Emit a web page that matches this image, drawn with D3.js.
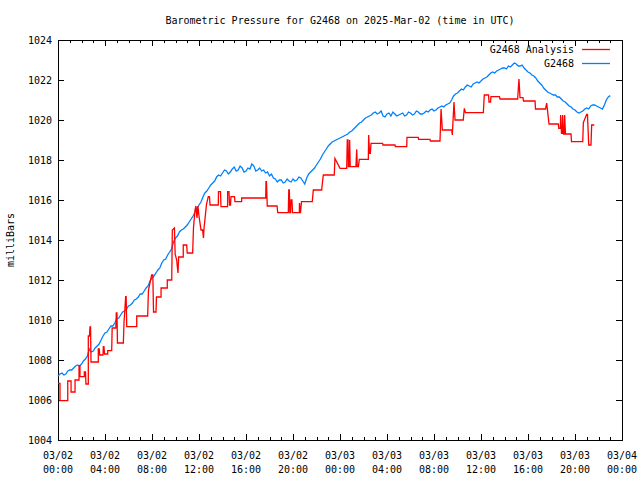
<!DOCTYPE html>
<html><head><meta charset="utf-8">
<script src="https://cdn.jsdelivr.net/npm/d3@7"></script>
<style>
body{margin:0;background:#fff}
svg{display:block}
text{font-family:"DejaVu Sans Mono",monospace;font-size:10px;fill:#000}
</style>
</head><body>
<svg id="chart" width="640" height="480"></svg>
<script>
const chartTitle = "Barometric Pressure for G2468 on 2025-Mar-02 (time in UTC)";
const yAxisLabel = "milliBars";
const startTime = "2025-03-02T00:00:00Z";
const endTime = "2025-03-04T00:00:00Z";
const yTickValues = [1004, 1006, 1008, 1010, 1012, 1014, 1016, 1018, 1020, 1022, 1024];
const seriesNames = ["G2468 Analysis", "G2468"];
const seriesColors = ["#ff0000", "#0080ff"];

// G2468 observations, one value every 10 minutes from 03/02 00:00 UTC
const obsStepMinutes = 10;
const obsValues = [
  1007.20,1007.30,1007.35,1007.25,1007.30,1007.45,1007.50,1007.50,1007.60,1007.70,
  1007.75,1007.70,1007.80,1007.95,1008.05,1008.20,1008.55,1008.40,1008.45,1008.60,
  1008.70,1008.80,1009.00,1009.20,1009.35,1009.40,1009.55,1009.70,1009.70,1009.85,
  1010.05,1010.10,1010.25,1010.40,1010.45,1010.55,1010.70,1010.75,1010.85,1011.00,
  1011.05,1011.15,1011.30,1011.30,1011.45,1011.60,1011.70,1011.95,1012.10,1012.20,
  1012.35,1012.50,1012.60,1012.85,1013.00,1013.05,1013.25,1013.40,1013.55,1013.90,
  1014.10,1014.20,1014.40,1014.50,1014.55,1014.65,1014.75,1014.90,1015.05,1015.20,
  1015.40,1015.60,1015.75,1015.90,1016.15,1016.35,1016.45,1016.60,1016.75,1016.85,
  1016.95,1017.15,1017.25,1017.20,1017.35,1017.50,1017.45,1017.30,1017.40,1017.55,
  1017.65,1017.45,1017.50,1017.70,1017.60,1017.40,1017.45,1017.60,1017.55,1017.80,
  1017.70,1017.45,1017.50,1017.60,1017.45,1017.50,1017.35,1017.40,1017.20,1017.30,
  1017.10,1017.05,1016.90,1017.00,1017.00,1016.85,1016.90,1017.05,1016.95,1016.90,
  1017.05,1016.95,1017.00,1017.15,1017.10,1016.95,1016.80,1017.10,1017.30,1017.40,
  1017.50,1017.60,1017.75,1017.90,1018.05,1018.25,1018.40,1018.55,1018.70,1018.80,
  1018.90,1018.95,1019.00,1019.05,1019.10,1019.15,1019.20,1019.25,1019.30,1019.40,
  1019.45,1019.55,1019.65,1019.75,1019.85,1019.90,1020.00,1020.10,1020.15,1020.20,
  1020.25,1020.35,1020.40,1020.30,1020.35,1020.45,1020.20,1020.15,1020.30,1020.35,
  1020.20,1020.40,1020.30,1020.20,1020.25,1020.30,1020.35,1020.20,1020.25,1020.40,
  1020.35,1020.25,1020.30,1020.45,1020.40,1020.30,1020.30,1020.35,1020.45,1020.40,
  1020.50,1020.55,1020.45,1020.50,1020.60,1020.65,1020.70,1020.65,1020.75,1020.80,
  1020.85,1021.00,1021.20,1021.30,1021.35,1021.45,1021.55,1021.50,1021.65,1021.75,
  1021.70,1021.65,1021.80,1021.85,1021.90,1021.85,1021.95,1022.05,1022.10,1022.15,
  1022.25,1022.35,1022.40,1022.35,1022.45,1022.50,1022.55,1022.60,1022.60,1022.55,
  1022.70,1022.65,1022.75,1022.85,1022.80,1022.70,1022.70,1022.75,1022.60,1022.50,
  1022.40,1022.35,1022.25,1022.20,1022.10,1021.95,1021.85,1021.75,1021.60,1021.50,
  1021.40,1021.35,1021.30,1021.25,1021.25,1021.15,1021.15,1021.05,1020.95,1020.90,
  1020.80,1020.70,1020.65,1020.55,1020.50,1020.40,1020.35,1020.40,1020.45,1020.55,
  1020.60,1020.55,1020.70,1020.75,1020.75,1020.70,1020.65,1020.60,1020.55,1020.75,
  1021.00,1021.15,1021.22
];

// G2468 Analysis: hours after 03/02 00:00 UTC and values
const anaHours = [
  0,0.17,0.17,0.83,0.83,1.11,1.11,1.45,1.45,1.79,1.79,1.87,1.87,2.24,2.24,2.34,2.38,2.58,2.58,2.68,
  2.72,2.77,2.81,3.43,3.43,3.51,3.55,3.83,3.86,3.91,3.96,4.23,4.23,4.57,4.61,4.92,4.96,5.02,5.06,5.56,
  5.62,5.76,5.80,5.85,6.70,6.70,7.63,7.70,7.97,8.07,8.13,8.34,8.38,8.77,8.77,9.30,9.30,9.68,9.73,9.91,
  9.97,10.10,10.21,10.27,10.66,10.66,10.95,11.00,11.46,11.53,11.66,11.74,11.83,11.91,12.00,12.17,12.31,12.38,12.43,12.64,
  12.79,12.89,12.94,13.64,13.66,13.83,13.87,14.43,14.44,14.55,14.60,14.68,14.72,15.02,15.06,15.63,15.63,17.68,17.70,17.74,
  17.81,18.64,18.70,19.60,19.64,19.69,19.73,19.79,19.83,19.91,19.96,20.54,20.55,20.60,20.64,20.72,21.64,21.73,22.44,22.51,
  22.58,23.51,23.57,24.00,24.57,24.62,24.68,24.71,24.79,24.82,24.87,25.36,25.42,25.47,25.57,25.64,26.41,26.44,26.51,26.58,
  26.64,27.63,27.66,28.68,28.71,29.68,29.70,30.66,30.69,31.66,31.69,32.51,32.60,32.71,33.51,33.56,33.70,33.79,34.49,34.58,
  34.68,36.20,36.28,36.64,36.68,36.81,36.85,37.57,37.62,39.12,39.23,39.32,39.57,39.62,40.60,40.64,41.49,41.59,41.79,42.58,
  42.62,42.75,42.78,42.85,42.92,42.95,43.02,43.09,43.12,43.19,43.66,43.70,44.66,44.71,44.99,45.06,45.17,45.36,45.42,45.64
];
const anaValues = [
  1006.83,1006.83,1005.97,1005.97,1006.95,1006.95,1006.40,1006.40,1007.00,1007.00,1007.70,1007.70,1007.17,1007.17,1007.40,1007.40,1006.80,1006.80,1009.20,1009.20,
  1009.65,1009.65,1007.90,1007.90,1008.55,1008.55,1008.25,1008.25,1008.67,1008.67,1008.30,1008.30,1008.47,1008.47,1009.60,1009.60,1010.35,1010.35,1008.85,1008.85,
  1009.90,1011.17,1011.17,1009.67,1009.67,1010.20,1010.20,1011.50,1012.25,1012.25,1010.40,1010.40,1011.15,1011.15,1011.60,1011.60,1012.00,1012.00,1014.50,1014.60,
  1013.30,1013.00,1012.35,1013.15,1013.15,1013.75,1013.75,1013.35,1013.35,1014.60,1015.50,1015.70,1015.10,1015.70,1015.20,1014.50,1014.50,1014.10,1014.60,1015.80,
  1016.17,1016.17,1015.75,1015.75,1016.42,1016.42,1015.67,1015.67,1016.42,1016.42,1015.75,1015.75,1016.17,1016.17,1015.92,1015.92,1016.10,1016.10,1016.92,1016.92,
  1015.70,1015.70,1015.37,1015.37,1016.50,1016.50,1015.37,1015.37,1016.00,1016.00,1015.37,1015.37,1015.85,1015.37,1015.37,1015.92,1015.92,1016.50,1016.50,1016.90,
  1017.25,1017.25,1018.08,1017.58,1017.58,1019.00,1019.00,1017.67,1017.67,1019.00,1017.67,1017.67,1018.53,1017.67,1017.67,1018.03,1018.03,1019.25,1018.33,1018.33,
  1018.83,1018.83,1018.75,1018.75,1018.67,1018.67,1019.13,1019.13,1019.03,1019.03,1018.95,1018.95,1020.55,1019.50,1019.50,1019.25,1020.90,1020.00,1020.00,1020.58,
  1020.37,1020.37,1021.25,1021.25,1020.90,1020.90,1021.17,1021.17,1021.05,1021.05,1022.05,1021.12,1021.12,1020.95,1020.95,1020.55,1020.55,1020.85,1019.80,1019.80,
  1019.58,1019.58,1020.25,1019.33,1019.33,1020.25,1019.30,1019.30,1020.25,1019.30,1019.30,1018.92,1018.92,1019.87,1020.28,1020.28,1018.75,1018.75,1019.75,1019.75
];

const W = 640, H = 480;
const margin = {left: 58, right: 18, top: 40, bottom: 40};
const svg = d3.select("#chart");

const t0 = new Date(startTime), t1 = new Date(endTime);
const x = d3.scaleUtc().domain([t0, t1]).range([margin.left, W - margin.right]);
const y = d3.scaleLinear().domain([1004, 1024]).range([H - margin.bottom, margin.top]);

const hourToDate = h => new Date(t0.getTime() + h * 3600e3);
const obs = obsValues.map((v, i) => ({t: new Date(t0.getTime() + i * obsStepMinutes * 60e3), v}));
const ana = anaHours.map((h, i) => ({t: hourToDate(h), v: anaValues[i]}));

const majorX = d3.utcHour.every(4).range(t0, new Date(t1.getTime() + 1));
const minorX = d3.utcHour.every(1).range(t0, new Date(t1.getTime() + 1));
const fmtD = d3.utcFormat("%m/%d"), fmtT = d3.utcFormat("%H:%M");

// axes with inward ticks
const gB = svg.append("g").attr("transform", `translate(0,${H - margin.bottom})`)
  .call(d3.axisBottom(x).tickValues(minorX).tickSize(-3).tickFormat(""));
const gB2 = svg.append("g").attr("transform", `translate(0,${H - margin.bottom})`)
  .call(d3.axisBottom(x).tickValues(majorX).tickSize(-6).tickPadding(0).tickFormat(""));
const gT = svg.append("g").attr("transform", `translate(0,${margin.top})`)
  .call(d3.axisTop(x).tickValues(minorX).tickSize(-3).tickFormat(""));
const gT2 = svg.append("g").attr("transform", `translate(0,${margin.top})`)
  .call(d3.axisTop(x).tickValues(majorX).tickSize(-6).tickFormat(""));
const gL = svg.append("g").attr("transform", `translate(${margin.left},0)`)
  .call(d3.axisLeft(y).tickValues(yTickValues).tickSize(-6).tickPadding(6).tickFormat(d3.format("d")));
const gR = svg.append("g").attr("transform", `translate(${W - margin.right},0)`)
  .call(d3.axisRight(y).tickValues(yTickValues).tickSize(-6).tickFormat(""));

[gB, gB2, gT, gT2, gL, gR].forEach(g => {
  g.select(".domain").remove();
  g.selectAll("line").attr("stroke", "#000").attr("shape-rendering", "crispEdges");
});
gL.selectAll("text").attr("x", -6).attr("dy", "0.35em");
svg.selectAll("g").attr("font-family", null).attr("font-size", null);

// x labels, two lines
const xl = svg.append("g");
majorX.forEach(d => {
  const t = xl.append("text").attr("text-anchor", "middle").attr("x", x(d));
  t.append("tspan").attr("x", x(d)).attr("y", 459).text(fmtD(d));
  t.append("tspan").attr("x", x(d)).attr("y", 473).text(fmtT(d));
});

// frame
svg.append("rect").attr("x", margin.left + 0.5).attr("y", margin.top + 0.5)
  .attr("width", W - margin.right - margin.left).attr("height", H - margin.bottom - margin.top)
  .attr("fill", "none").attr("stroke", "#000").attr("shape-rendering", "crispEdges");

// lines
const line = d3.line().x(d => x(d.t)).y(d => y(d.v));
svg.append("path").datum(obs).attr("d", line).attr("fill", "none")
  .attr("stroke", seriesColors[1]).attr("stroke-width", 1.3);
svg.append("path").datum(ana).attr("d", line).attr("fill", "none")
  .attr("stroke", seriesColors[0]).attr("stroke-width", 1.3);

// title and y label
svg.append("text").attr("x", 340).attr("y", 24).attr("text-anchor", "middle").text(chartTitle);
svg.append("text").attr("transform", "translate(14,240) rotate(-90)").attr("text-anchor", "middle").text(yAxisLabel);

// legend
seriesNames.forEach((name, i) => {
  const yy = 53 + i * 14;
  svg.append("text").attr("x", 574).attr("y", yy).attr("text-anchor", "end").text(name);
  svg.append("line").attr("x1", 582).attr("x2", 610).attr("y1", yy - 3.5).attr("y2", yy - 3.5)
    .attr("stroke", seriesColors[i]).attr("stroke-width", 1.3);
});
</script>
</body></html>
